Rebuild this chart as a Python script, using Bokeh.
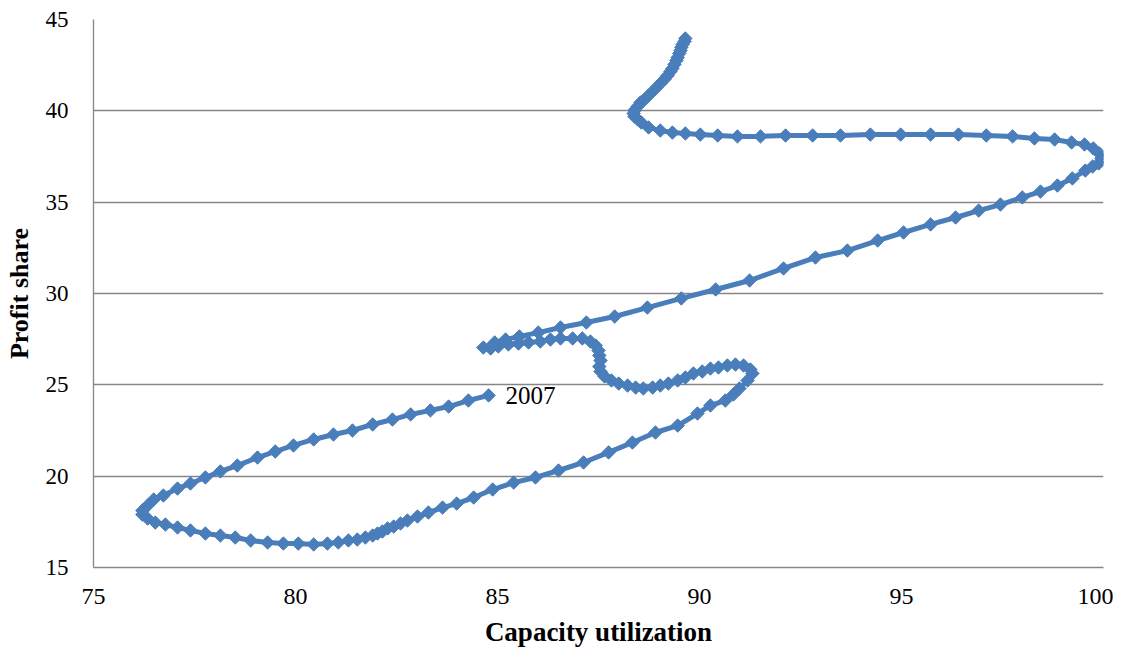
from bokeh.plotting import figure
from bokeh.models import Range1d, FixedTicker, ColumnDataSource
from bokeh.core.properties import value
from bokeh.embed import file_html
from bokeh.resources import INLINE
import numpy as np

# Capacity utilization (x) and profit share (y), trajectory ending in 2007
capacity_utilization = [
    89.65, 89.63, 89.58, 89.55, 89.53, 89.50, 89.46, 89.43, 89.38, 89.33,
    89.28, 89.21, 89.13, 89.03, 88.94, 88.84, 88.74, 88.64, 88.54, 88.47,
    88.39, 88.37, 88.39, 88.47, 88.56,
    88.74, 89.03, 89.33, 89.65, 90.02, 90.45, 90.94, 91.51, 92.13, 92.80,
    93.49, 94.23, 94.98, 95.72, 96.41, 97.10, 97.75, 98.29, 98.79, 99.21,
    99.53, 99.75, 99.90, 99.95, 99.88, 99.73, 99.55, 99.23, 98.86, 98.44,
    97.99, 97.45, 96.91, 96.34, 95.72, 95.05, 94.41, 93.66, 92.87, 92.08,
    91.24, 90.40, 89.55, 88.71, 87.90, 87.20, 86.56, 86.01, 85.54, 85.20,
    84.93, 84.65,
    84.83, 85.02, 85.27, 85.52, 85.77, 86.06, 86.31, 86.56, 86.86, 87.10,
    87.30, 87.43, 87.50, 87.52, 87.55, 87.52, 87.55, 87.65, 87.82, 88.00,
    88.22, 88.42, 88.61, 88.84, 89.03, 89.23, 89.46, 89.65, 89.85, 90.07,
    90.27, 90.47, 90.69, 90.89, 91.09, 91.26, 91.31, 91.19, 90.99, 90.84,
    90.64, 90.27, 89.95, 89.46, 88.91, 88.34, 87.75, 87.13, 86.51, 85.94,
    85.40, 84.88, 84.41, 83.99, 83.64, 83.29, 83.02, 82.77, 82.60, 82.43,
    82.28, 82.15, 82.03, 81.91, 81.73, 81.53, 81.31, 81.06, 80.79, 80.45,
    80.07, 79.70, 79.31, 78.89, 78.51, 78.14, 77.77, 77.40, 77.08, 76.78,
    76.53, 76.34, 76.21, 76.21, 76.34, 76.49, 76.73, 77.08, 77.40, 77.77,
    78.14, 78.56, 79.06, 79.50, 79.95, 80.45, 80.94, 81.41, 81.91, 82.40,
    82.85, 83.34, 83.79, 84.28, 84.78,
]
profit_share = [
    43.96, 43.80, 43.63, 43.47, 43.30, 43.14, 42.92, 42.76, 42.54, 42.32,
    42.15, 41.93, 41.72, 41.50, 41.28, 41.06, 40.84, 40.62, 40.46, 40.24,
    40.02, 39.85, 39.69, 39.53, 39.36,
    39.09, 38.92, 38.81, 38.76, 38.70, 38.65, 38.60, 38.60, 38.65, 38.65,
    38.65, 38.70, 38.70, 38.70, 38.70, 38.65, 38.60, 38.49, 38.43, 38.27,
    38.16, 37.94, 37.66, 37.39, 37.12, 36.95, 36.73, 36.30, 35.91, 35.58,
    35.26, 34.87, 34.54, 34.16, 33.78, 33.34, 32.90, 32.35, 31.97, 31.37,
    30.71, 30.22, 29.73, 29.23, 28.74, 28.41, 28.14, 27.86, 27.65, 27.48,
    27.32, 27.04,
    26.99, 27.10, 27.21, 27.26, 27.32, 27.37, 27.48, 27.54, 27.54, 27.54,
    27.37, 27.15, 26.88, 26.61, 26.33, 26.00, 25.73, 25.46, 25.24, 25.07,
    24.96, 24.85, 24.80, 24.85, 24.96, 25.07, 25.24, 25.40, 25.62, 25.73,
    25.89, 25.95, 26.06, 26.11, 26.06, 25.84, 25.62, 25.24, 24.80, 24.47,
    24.14, 23.87, 23.43, 22.77, 22.39, 21.84, 21.30, 20.75, 20.31, 19.93,
    19.65, 19.27, 18.83, 18.50, 18.28, 18.01, 17.79, 17.57, 17.41, 17.24,
    17.14, 16.97, 16.86, 16.75, 16.64, 16.53, 16.48, 16.37, 16.31, 16.26,
    16.31, 16.31, 16.37, 16.48, 16.64, 16.75, 16.86, 17.03, 17.19, 17.35,
    17.46, 17.68, 17.90, 18.12, 18.39, 18.72, 18.94, 19.32, 19.60, 19.93,
    20.26, 20.58, 21.02, 21.35, 21.68, 22.01, 22.28, 22.50, 22.83, 23.10,
    23.38, 23.60, 23.81, 24.14, 24.42,
]
end_label = "2007"
x_ticks = [75, 80, 85, 90, 95, 100]
y_ticks = [15, 20, 25, 30, 35, 40, 45]

BLUE = "#4A7EBB"
GRID = "#868686"
SERIF = "Liberation Serif"

src = ColumnDataSource(dict(x=capacity_utilization, y=profit_share))

p = figure(width=1113, height=650, output_backend="svg", toolbar_location=None,
           x_range=Range1d(75, 100), y_range=Range1d(15, 45),
           min_border_left=93, min_border_right=10, min_border_top=19, min_border_bottom=83)
p.outline_line_color = None
p.background_fill_color = "white"
p.border_fill_color = "white"
p.xgrid.grid_line_color = None
p.ygrid.grid_line_color = GRID
p.ygrid.grid_line_width = 1.3

p.xaxis.ticker = FixedTicker(ticks=x_ticks)
p.yaxis.ticker = FixedTicker(ticks=y_ticks)
for ax in (p.xaxis, p.yaxis):
    ax.axis_line_color = GRID
    ax.axis_line_width = 1.3
    ax.major_tick_line_color = None
    ax.minor_tick_line_color = None
    ax.major_tick_out = 0
    ax.major_tick_in = 0
    ax.major_label_text_color = "black"
    ax.major_label_text_font = SERIF
    ax.axis_label_text_color = "black"
    ax.axis_label_text_font = SERIF
    ax.axis_label_text_font_style = "bold"

p.xaxis.major_label_text_font_size = "24px"
p.xaxis.major_label_standoff = 21
p.xaxis.axis_label = "Capacity utilization"
p.xaxis.axis_label_text_font_size = "27px"
p.xaxis.axis_label_standoff = 10

p.yaxis.major_label_text_font_size = "23px"
p.yaxis.major_label_standoff = 25
p.yaxis.axis_label = "Profit share"
p.yaxis.axis_label_text_font_size = "26px"
p.yaxis.axis_label_standoff = 9

p.line("x", "y", source=src, line_color=BLUE, line_width=5, line_join="round")
p.scatter("x", "y", source=src, marker="square", size=9.5, angle=np.pi / 4,
          fill_color=BLUE, line_color=BLUE)

p.text(x=[capacity_utilization[-1]], y=[profit_share[-1]], text=[end_label],
       x_offset=17, text_baseline="middle", text_align="left",
       text_font=value(SERIF), text_font_size="25px", text_color="black")

open("out.html", "w").write(file_html(p, INLINE))
